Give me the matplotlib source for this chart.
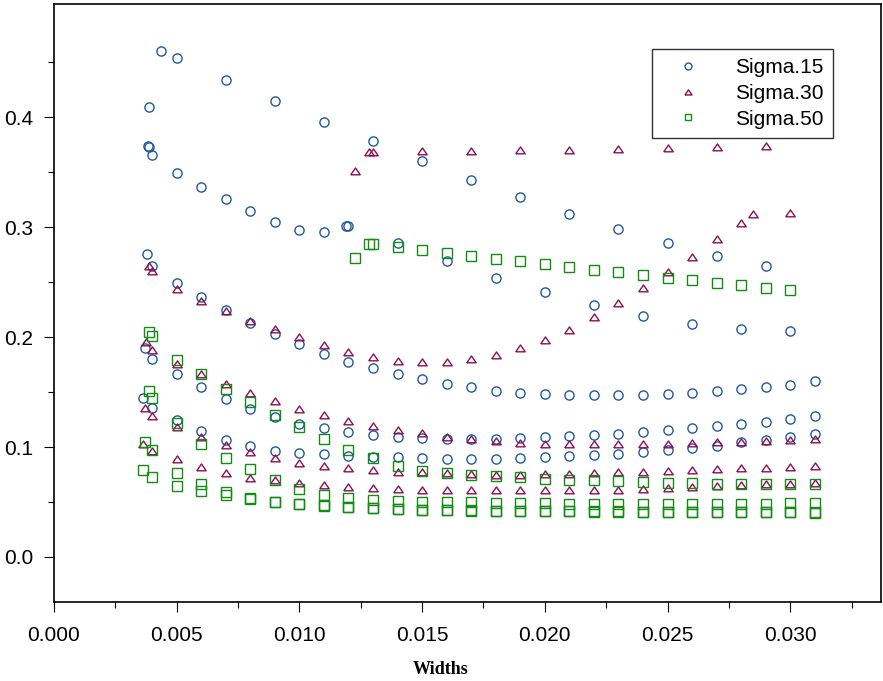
import numpy as np
import matplotlib
matplotlib.use('Agg')
import matplotlib.pyplot as plt
import matplotlib.ticker as mticker

# common width grid 0.005 .. 0.031
W = [0.005, 0.006, 0.007, 0.008, 0.009, 0.010, 0.011, 0.012, 0.013, 0.014,
     0.015, 0.016, 0.017, 0.018, 0.019, 0.020, 0.021, 0.022, 0.023, 0.024,
     0.025, 0.026, 0.027, 0.028, 0.029, 0.030, 0.031]

# Sigma.15 (circles)
s15_xa = [0.00387, 0.00436, 0.005, 0.007, 0.009, 0.011, 0.013, 0.015, 0.017,
          0.019, 0.021, 0.023, 0.025, 0.027, 0.029]
s15_ya = [0.4094, 0.4603, 0.4543, 0.4343, 0.4152, 0.396, 0.378, 0.36, 0.343,
          0.327, 0.3118, 0.2982, 0.2852, 0.2742, 0.2649]
s15_xb = [0.00383, 0.00386, 0.004, 0.005, 0.006, 0.007, 0.008, 0.009, 0.010,
          0.011, 0.0119, 0.0120, 0.014, 0.016, 0.018, 0.020, 0.022, 0.024,
          0.026, 0.028, 0.030]
s15_yb = [0.3735, 0.3725, 0.3657, 0.3494, 0.3367, 0.3255, 0.3145, 0.3045, 0.297,
          0.2955, 0.3008, 0.3015, 0.2852, 0.2688, 0.2536, 0.2406, 0.2288, 0.2191,
          0.2118, 0.207, 0.2052]
s15_x1 = [0.00377, 0.004] + W
s15_y1 = [0.2755, 0.265, 0.2494, 0.2361, 0.2245, 0.2124, 0.2024, 0.1933, 0.1848,
          0.1776, 0.1715, 0.1664, 0.1618, 0.1576, 0.1543, 0.1512, 0.1494, 0.1479,
          0.1473, 0.147, 0.147, 0.1473, 0.1482, 0.1494, 0.1509, 0.1524, 0.1542,
          0.1567, 0.16]
s15_x2 = [0.00369, 0.004] + W
s15_y2 = [0.1903, 0.18, 0.1664, 0.1543, 0.144, 0.1348, 0.127, 0.1209, 0.117,
          0.1136, 0.1112, 0.1094, 0.1079, 0.1073, 0.1073, 0.1076, 0.1082, 0.1088,
          0.1097, 0.1109, 0.1121, 0.1136, 0.1152, 0.117, 0.1188, 0.1209, 0.123,
          0.1255, 0.1282]
s15_x3 = [0.00363, 0.004] + W
s15_y3 = [0.1442, 0.1359, 0.1248, 0.1145, 0.1064, 0.1008, 0.0967, 0.0946, 0.0933,
          0.0918, 0.0906, 0.0906, 0.0897, 0.0891, 0.0891, 0.0894, 0.0897, 0.0906,
          0.0918, 0.0927, 0.0938, 0.0952, 0.097, 0.0988, 0.1012, 0.1042, 0.1067,
          0.1091, 0.1118]

# Sigma.30 (triangles)
s30_xa = [0.01228, 0.01283, 0.013, 0.015, 0.017, 0.019, 0.021, 0.023, 0.025,
          0.027, 0.029]
s30_ya = [0.3515, 0.368, 0.368, 0.369, 0.3694, 0.37, 0.3706, 0.3712, 0.372,
          0.3727, 0.3736]
s30_xb = [0.00386, 0.004] + W[:24] + [0.0285, 0.030]
s30_yb = [0.2645, 0.2603, 0.2433, 0.2324, 0.2239, 0.2148, 0.207, 0.1997, 0.1927,
          0.1864, 0.1815, 0.1785, 0.177, 0.1775, 0.1805, 0.1836, 0.19, 0.197,
          0.2064, 0.2182, 0.2309, 0.2445, 0.2591, 0.2733, 0.2888, 0.3042,
          0.3118, 0.3127]
s30_x1 = [0.00375, 0.004] + W
s30_y1 = [0.1957, 0.1882, 0.1752, 0.1661, 0.1573, 0.1488, 0.1415, 0.1345, 0.1288,
          0.1233, 0.1191, 0.1155, 0.1124, 0.1091, 0.1073, 0.1058, 0.104, 0.103,
          0.1024, 0.1024, 0.1024, 0.1027, 0.103, 0.1036, 0.1042, 0.1048, 0.1058,
          0.1067, 0.1073]
s30_x2 = [0.00369, 0.004] + W
s30_y2 = [0.1357, 0.1282, 0.1185, 0.1091, 0.1018, 0.0955, 0.0897, 0.0858, 0.0827,
          0.0805, 0.0788, 0.0773, 0.077, 0.0761, 0.0752, 0.0748, 0.0748, 0.0752,
          0.0758, 0.0764, 0.077, 0.0776, 0.0782, 0.0788, 0.0797, 0.0806, 0.0812,
          0.0821, 0.083]
s30_x3 = [0.00363, 0.004] + W
s30_y3 = [0.103, 0.0968, 0.0888, 0.0815, 0.076, 0.0718, 0.0697, 0.0673, 0.0655,
          0.064, 0.063, 0.0617, 0.0613, 0.0609, 0.0607, 0.0606, 0.0606, 0.0606,
          0.0606, 0.0608, 0.0612, 0.062, 0.0627, 0.0636, 0.0645, 0.0655, 0.0661,
          0.0667, 0.067]

# Sigma.50 (squares)
s50_xa = [0.01228, 0.01283, 0.013, 0.014] + W[10:26]
s50_ya = [0.2715, 0.2848, 0.2848, 0.2818, 0.2788, 0.2764, 0.2739, 0.2712, 0.2688,
          0.2664, 0.2639, 0.2612, 0.2588, 0.2564, 0.2539, 0.2515, 0.2494, 0.247,
          0.2445, 0.2424]
s50_x1 = [0.00386, 0.004] + W
s50_y1 = [0.2048, 0.2009, 0.1791, 0.1661, 0.153, 0.141, 0.1291, 0.118, 0.1073,
          0.0976, 0.0897, 0.083, 0.078, 0.0759, 0.0747, 0.0735, 0.0723, 0.0709,
          0.0704, 0.0698, 0.0691, 0.0684, 0.0677, 0.0671, 0.0665, 0.0662, 0.0661,
          0.0661, 0.0664]
s50_x2 = [0.00387, 0.004] + W
s50_y2 = [0.1509, 0.145, 0.1215, 0.1027, 0.0898, 0.0796, 0.0698, 0.0617, 0.0563,
          0.0533, 0.0522, 0.0509, 0.0504, 0.05, 0.0496, 0.0493, 0.049, 0.0487,
          0.0484, 0.0482, 0.0482, 0.0482, 0.0482, 0.0483, 0.0484, 0.0485, 0.0486,
          0.0487, 0.0488]
s50_x3 = [0.00369, 0.004] + W
s50_y3 = [0.1043, 0.0969, 0.076, 0.0664, 0.0594, 0.0535, 0.05, 0.0482, 0.0468,
          0.0455, 0.0448, 0.0436, 0.0431, 0.0428, 0.0424, 0.0421, 0.0419, 0.0417,
          0.0416, 0.0415, 0.0414, 0.0413, 0.0412, 0.0411, 0.041, 0.0409, 0.0408,
          0.0407, 0.0406]
s50_x4 = [0.00363, 0.004] + W
s50_y4 = [0.0791, 0.0727, 0.0645, 0.06, 0.0562, 0.053, 0.0497, 0.0478, 0.0462,
          0.0452, 0.0445, 0.0434, 0.0429, 0.0426, 0.0422, 0.0419, 0.0417, 0.0415,
          0.0414, 0.0413, 0.0412, 0.0411, 0.041, 0.0409, 0.0408, 0.0407, 0.0406,
          0.0405, 0.0404]

yticks_major = [0.0, 0.1, 0.2, 0.3, 0.4]
yticks_minor = [0.05, 0.15, 0.25, 0.35, 0.45]

groups = [
    ('Sigma.15', 'o', '#1f5a9c',
     [(s15_xa, s15_ya), (s15_xb, s15_yb), (s15_x1, s15_y1), (s15_x2, s15_y2), (s15_x3, s15_y3)]),
    ('Sigma.30', [(-1, -0.7), (1, -0.7), (0, 0.75), (-1, -0.7)], '#8c0f52',
     [(s30_xa, s30_ya), (s30_xb, s30_yb), (s30_x1, s30_y1), (s30_x2, s30_y2), (s30_x3, s30_y3)]),
    ('Sigma.50', 's', '#138c13',
     [(s50_xa, s50_ya), (s50_x1, s50_y1), (s50_x2, s50_y2), (s50_x3, s50_y3), (s50_x4, s50_y4)]),
]

plt.rcParams['font.family'] = ['Liberation Sans', 'DejaVu Sans']

fig = plt.figure(figsize=(8.83, 6.81), dpi=100)
ax = fig.add_axes([54/883, 1-602/681, 827/883, 598/681])

handles = []
for label, mk, col, parts in groups:
    xs = np.concatenate([np.asarray(p[0]) for p in parts])
    ys = np.concatenate([np.asarray(p[1]) for p in parts])
    ms = 6.6 if mk in ('o', 's') else 6.8
    h, = ax.plot(xs, ys, linestyle='none', marker=mk, markersize=ms,
                 markerfacecolor='none', markeredgecolor=col, markeredgewidth=1.0,
                 label=label)
    handles.append(h)

ax.set_xlim(0.0, 0.0337)
ax.set_ylim(-0.041, 0.503)

ax.xaxis.set_major_locator(mticker.MultipleLocator(0.005))
ax.xaxis.set_minor_locator(mticker.MultipleLocator(0.0025))
ax.xaxis.set_major_formatter(mticker.FormatStrFormatter('%.3f'))
ax.yaxis.set_major_locator(mticker.FixedLocator(yticks_major))
ax.yaxis.set_minor_locator(mticker.FixedLocator(yticks_minor))
ax.yaxis.set_major_formatter(mticker.FormatStrFormatter('%.1f'))

ax.tick_params(axis='both', which='major', direction='out', length=7, width=0.8,
               labelsize=15, pad=8)
ax.tick_params(axis='x', which='major', pad=10)
ax.tick_params(axis='both', which='minor', direction='out', length=4.5, width=0.8)
for sp in ax.spines.values():
    sp.set_linewidth(1.2)

fig.text(441/883, 1-669/681, 'Widths', ha='center', va='center',
         family='Liberation Serif', fontweight='bold', fontsize=13)

leg = ax.legend(handles=handles, loc='upper left',
                bbox_to_anchor=(652/883, 1-49/681), bbox_transform=fig.transFigure,
                fontsize=15, frameon=True, fancybox=False, shadow=False,
                markerscale=0.75, handlelength=2.6, handletextpad=0.95,
                borderpad=0.45, labelspacing=0.32, borderaxespad=0)
leg.get_frame().set_edgecolor('black')
leg.get_frame().set_linewidth(1.0)

fig.savefig('out.png', dpi=100)
